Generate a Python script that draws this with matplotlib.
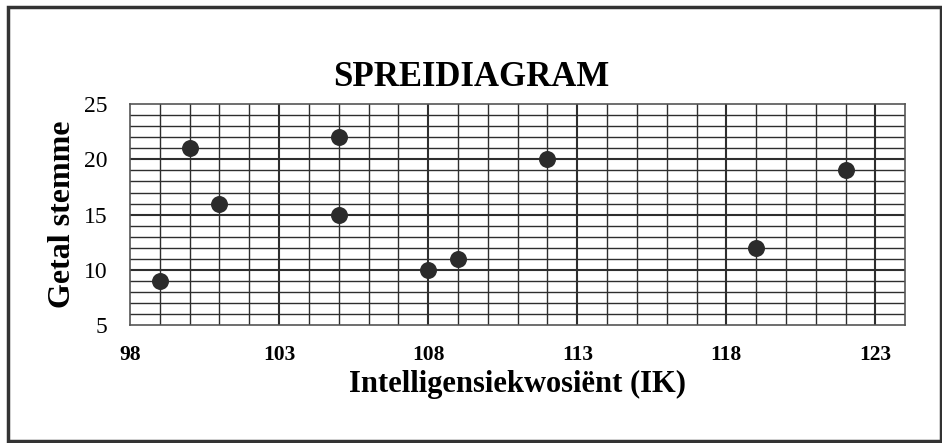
import matplotlib.pyplot as plt
from matplotlib.patches import Rectangle

# data
iq = [99, 100, 101, 105, 105, 108, 109, 112, 119, 122]
votes = [9, 21, 16, 22, 15, 10, 11, 20, 12, 19]
x_ticks = [98, 103, 108, 113, 118, 123]
y_ticks = [5, 10, 15, 20, 25]

plt.rcParams['font.family'] = ['Liberation Serif', 'DejaVu Serif']

fig = plt.figure(figsize=(9.42, 4.43), dpi=100)
ax = fig.add_axes([0.138, 0.266, 0.823, 0.499])

ax.set_xlim(98, 124)
ax.set_ylim(5, 25)

# fine grid every unit, darker every 5
for v in range(99, 124):
    lw = 1.5 if (v - 98) % 5 == 0 else 1.0
    ax.axvline(v, color='#2e2e2e', lw=lw, zorder=1)
for v in range(6, 25):
    lw = 1.5 if v % 5 == 0 else 1.0
    ax.axhline(v, color='#2e2e2e', lw=lw, zorder=1)

ax.scatter(iq, votes, s=125, color='#2b2b2b', zorder=3)

ax.set_xticks(x_ticks)
ax.set_yticks(y_ticks)
ax.tick_params(axis='x', length=0, pad=14)
ax.tick_params(axis='y', length=0, pad=16)
for lab in ax.get_xticklabels():
    lab.set_fontsize(15.5)
    lab.set_fontweight('bold')
for lab in ax.get_yticklabels():
    lab.set_fontsize(17)

for sp in ax.spines.values():
    sp.set_color('#555555')
    sp.set_linewidth(1.2)

ax.set_xlabel('Intelligensiekwosiënt (IK)', fontsize=22, fontweight='bold', labelpad=4)
ax.set_ylabel('Getal stemme', fontsize=23, fontweight='bold', labelpad=5)
fig.text(0.5, 0.825, 'SPREIDIAGRAM', ha='center', va='center', fontsize=25, fontweight='bold')

# outer frame
fig.patches.append(Rectangle((0.009, 0.004), 0.99, 0.98, transform=fig.transFigure,
                             fill=False, edgecolor='#333333', lw=2.5))

fig.savefig('out.png', dpi=100)
